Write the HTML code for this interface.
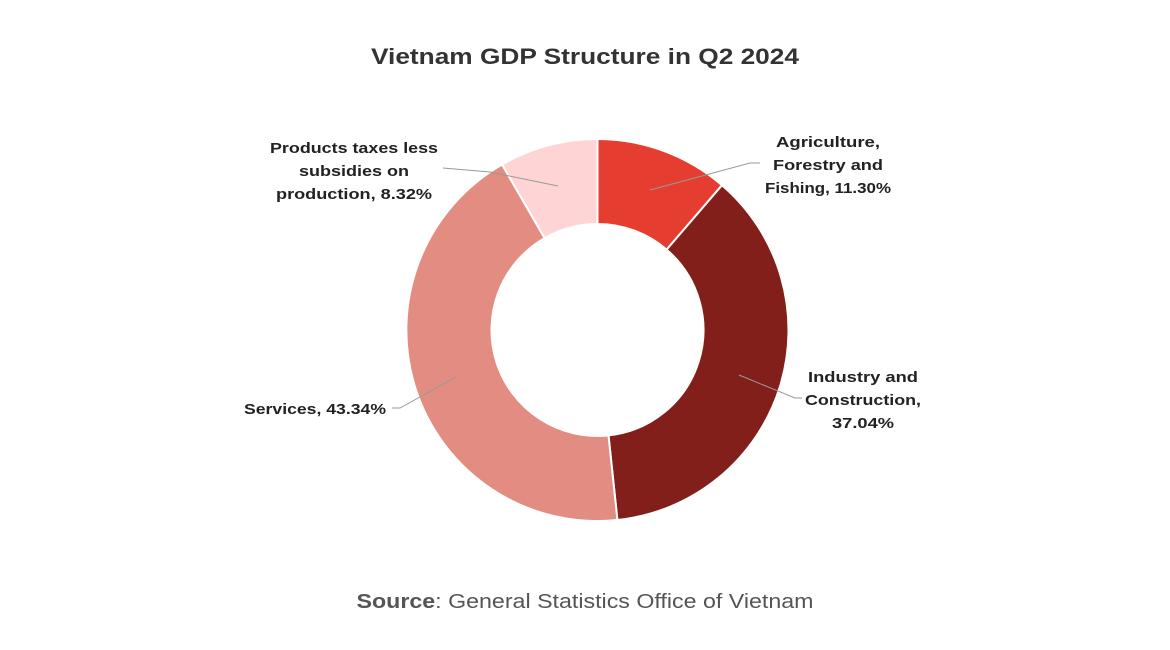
<!DOCTYPE html>
<html><head><meta charset="utf-8"><style>
html,body{margin:0;padding:0;background:#fff;}
svg{display:block;font-family:"Liberation Sans",sans-serif;}
</style></head><body>
<svg width="1170" height="650" viewBox="0 0 1170 650">
<rect width="1170" height="650" fill="#fff"/>
<text x="585" y="64" text-anchor="middle" font-size="22" font-weight="bold" fill="#333" textLength="428" lengthAdjust="spacingAndGlyphs">Vietnam GDP Structure in Q2 2024</text>
<g stroke="#fff" stroke-width="2">
<path d="M597.5,139 A191,191 0 0 1 722.0,185.2 L666.6,249.6 A106,106 0 0 0 597.5,224 Z" fill="#E53E30"/>
<path d="M722.0,185.2 A191,191 0 0 1 617.4,520.0 L608.5,435.4 A106,106 0 0 0 666.6,249.6 Z" fill="#821F1B"/>
<path d="M617.4,520.0 A191,191 0 0 1 502.1,164.5 L544.6,238.1 A106,106 0 0 0 608.5,435.4 Z" fill="#E38D82"/>
<path d="M502.1,164.5 A191,191 0 0 1 597.5,139 L597.5,224 A106,106 0 0 0 544.6,238.1 Z" fill="#FFD4D4"/>
</g>
<g stroke="#999" stroke-width="1" fill="none">
<polyline points="650,190 750,163 760,163"/>
<polyline points="739,375 795,398 802,398"/>
<polyline points="456,377 400,408 392,408"/>
<polyline points="558,186 490,172 443,168"/>
</g>
<g font-size="15" font-weight="bold" fill="#222" text-anchor="middle" lengthAdjust="spacingAndGlyphs">
<text x="828" y="147" textLength="104" lengthAdjust="spacingAndGlyphs">Agriculture,</text>
<text x="828" y="170" textLength="110" lengthAdjust="spacingAndGlyphs">Forestry and</text>
<text x="828" y="193" textLength="126" lengthAdjust="spacingAndGlyphs">Fishing, 11.30%</text>
<text x="863" y="382" textLength="110" lengthAdjust="spacingAndGlyphs">Industry and</text>
<text x="863" y="405" textLength="116" lengthAdjust="spacingAndGlyphs">Construction,</text>
<text x="863" y="428" textLength="62" lengthAdjust="spacingAndGlyphs">37.04%</text>
<text x="315" y="414" textLength="142" lengthAdjust="spacingAndGlyphs">Services, 43.34%</text>
<text x="354" y="153" textLength="168" lengthAdjust="spacingAndGlyphs">Products taxes less</text>
<text x="354" y="176" textLength="110" lengthAdjust="spacingAndGlyphs">subsidies on</text>
<text x="354" y="199" textLength="156" lengthAdjust="spacingAndGlyphs">production, 8.32%</text>
</g>
<text x="585" y="608" text-anchor="middle" font-size="20" fill="#555" textLength="457" lengthAdjust="spacingAndGlyphs"><tspan font-weight="bold">Source</tspan>: General Statistics Office of Vietnam</text>
</svg>
</body></html>
